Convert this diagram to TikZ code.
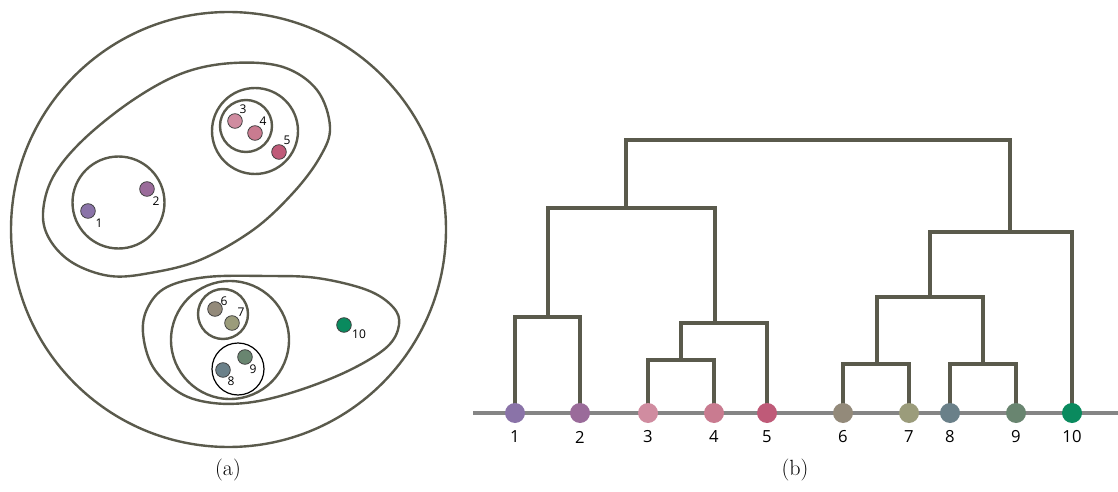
\documentclass[tikz,border=0pt]{standalone}
\usepackage{fontspec}
\newfontfamily\numfont{Open Sans}
\usepackage{xcolor}
\usetikzlibrary{positioning}

\definecolor{linegray}{HTML}{5A5A4C}
\definecolor{basegray}{HTML}{858585}
\definecolor{cA}{HTML}{8A73A8}
\definecolor{cB}{HTML}{9A6B9A}
\definecolor{cC}{HTML}{D08CA0}
\definecolor{cD}{HTML}{C97B90}
\definecolor{cE}{HTML}{BF5A78}
\definecolor{cF}{HTML}{938A7A}
\definecolor{cG}{HTML}{9B9C7B}
\definecolor{cH}{HTML}{6A8089}
\definecolor{cI}{HTML}{698570}
\definecolor{cJ}{HTML}{0A8A5E}

\tikzset{
  clus/.style={draw=linegray,line width=1.8pt},
  tree/.style={draw=linegray,line width=2.8pt},
  pt/.style={circle,draw=black!75,line width=0.6pt,fill=#1,minimum size=11pt,inner sep=0pt},
  leaf/.style={circle,fill=#1,minimum size=15pt,inner sep=0pt},
  lab/.style={font=\numfont\fontsize{9}{9}\selectfont,inner sep=0pt},
  leaflab/.style={font=\numfont\fontsize{12.5}{12.5}\selectfont,inner sep=0pt},
}

\begin{document}
\begin{tikzpicture}[x=0.75pt,y=-0.75pt]
\useasboundingbox (0,0) rectangle (1118,492);

%(a) clusters
\draw[clus] (228.5,229.5) circle (217.5);
\draw[clus] plot[smooth cycle,tension=0.6] coordinates
  {(43,213) (53,177) (83,140) (133,100) (183,73) (233,63) (283,67) (317,90) (330,127) (320,157) (293,193) (253,230) (200,260) (150,273) (110,276) (73,263) (50,240)};
\draw[clus] plot[smooth cycle,tension=0.6] coordinates
  {(143,333) (153,367) (180,393) (213,403) (253,402) (300,390) (350,370) (387,347) (399,325) (393,307) (367,290) (317,278) (267,276) (207,277) (167,287) (148,307)};
\draw[clus] (118.5,202.5) circle (46);
\draw[clus] (255,131) circle (43);
\draw[clus] (246,126) circle (26);
\draw[clus] (230,340) circle (59);
\draw[clus] (223,314) circle (25);
\draw[black,line width=0.9pt] (238,369) circle (26);

\node[pt=cA] (p1) at (88,211) {};
\node[pt=cB] (p2) at (147,189) {};
\node[pt=cC] (p3) at (235,121) {};
\node[pt=cD] (p4) at (255,133) {};
\node[pt=cE] (p5) at (279,152) {};
\node[pt=cF] (p6) at (215,309) {};
\node[pt=cG] (p7) at (232,323) {};
\node[pt=cH] (p8) at (223,370) {};
\node[pt=cI] (p9) at (245,357) {};
\node[pt=cJ] (p10) at (344,325) {};

\node[lab] (q1) at (99,223) {1};
\node[lab] (q2) at (156,201) {2};
\node[lab] (q3) at (243,109) {3};
\node[lab] (q4) at (263,121) {4};
\node[lab] (q5) at (287,140) {5};
\node[lab] (q6) at (224,301) {6};
\node[lab] (q7) at (241,312) {7};
\node[lab] (q8) at (231,381) {8};
\node[lab] (q9) at (253,369) {9};
\node[lab] (q10) at (359,334) {10};

\node[font=\fontsize{16.5}{16.5}\selectfont] (capa) at (228,470) {(a)};

%(b) dendrogram
\draw[draw=basegray,line width=2.3pt] (473,413) -- (1118,413);

\coordinate (a12) at (548,317);
\coordinate (a34) at (681,360);
\coordinate (a35) at (715,323);
\coordinate (a15) at (626,208);
\coordinate (a67) at (877,364);
\coordinate (a89) at (983,364);
\coordinate (a69) at (930,297);
\coordinate (a610) at (1010,232);
\coordinate (root) at (818,140);

\foreach \i/\x/\c in {1/515/cA,2/580/cB,3/648/cC,4/714/cD,5/767/cE,6/843/cF,7/909/cG,8/950/cH,9/1016/cI,10/1072/cJ}{%
\coordinate (t\i) at (\x,413);
}

\draw[tree] (t1) |- (a12) -| (t2);
\draw[tree] (t3) |- (a34) -| (t4);
\draw[tree] (a34) |- (a35) -| (t5);
\draw[tree] (a12) |- (a15) -| (a35);
\draw[tree] (t6) |- (a67) -| (t7);
\draw[tree] (t8) |- (a89) -| (t9);
\draw[tree] (a67) |- (a69) -| (a89);
\draw[tree] (a69) |- (a610) -| (t10);
\draw[tree] (a15) |- (root) -| (a610);

\foreach \i/\x/\c in {1/515/cA,2/580/cB,3/648/cC,4/714/cD,5/767/cE,6/843/cF,7/909/cG,8/950/cH,9/1016/cI,10/1072/cJ}{%
\node[leaf=\c] (l\i) at (t\i) {};
\node[leaflab] (n\i) at (\x,437) {\i};
}

\node[font=\fontsize{16.5}{16.5}\selectfont] (capb) at (795,470) {(b)};

\end{tikzpicture}
\end{document}
